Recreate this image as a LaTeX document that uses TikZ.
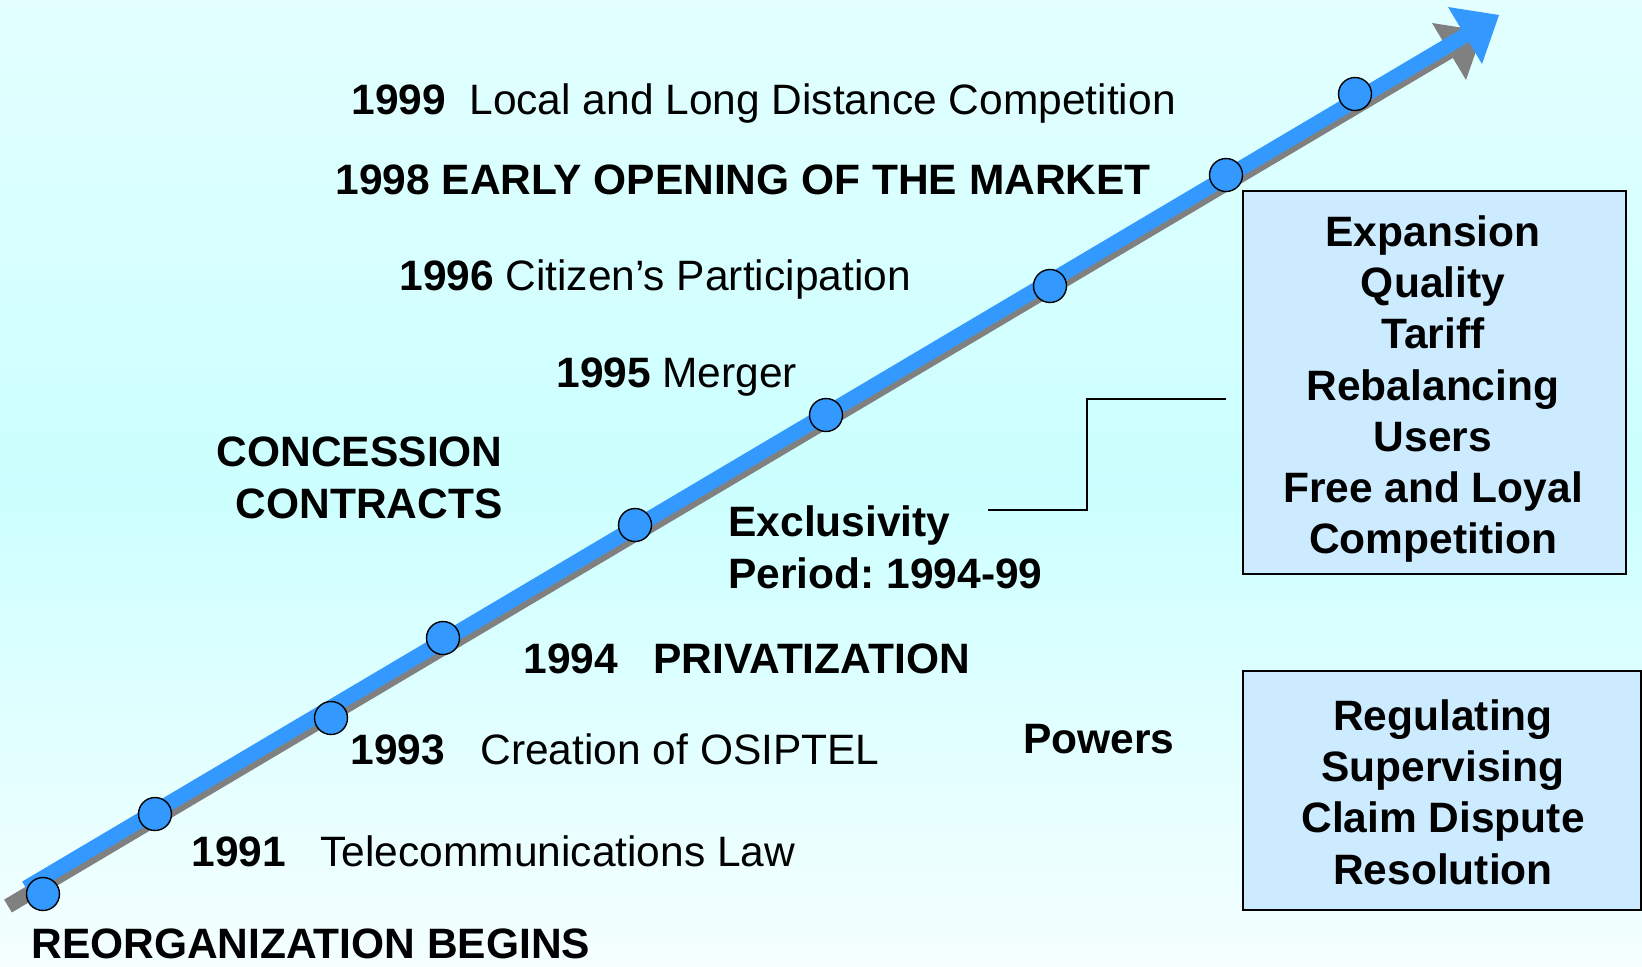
\documentclass[tikz,border=0pt]{standalone}
\usepackage{fontspec}
\setmainfont{Liberation Sans}
\frenchspacing
\definecolor{arrowblue}{HTML}{3399FF}
\definecolor{shadowgray}{HTML}{808080}
\definecolor{boxblue}{HTML}{CCEBFF}
\definecolor{bgtop}{HTML}{E3FFFF}
\definecolor{bgmid}{HTML}{CCFFFF}
\definecolor{bgbot}{HTML}{F5FFFF}
\begin{document}
\begin{tikzpicture}[x=0.5pt,y=-0.5pt,
  lbl/.style={font=\fontsize{21.25}{25.8}\selectfont, inner sep=0pt, anchor=base west},
  yr/.style={lbl, font=\fontsize{21.25}{25.8}\selectfont\bfseries},
  dot/.style={circle, draw=black, line width=0.7pt, fill=arrowblue, minimum size=16.5pt, inner sep=0pt},
  infobox/.style={draw=black, line width=0.75pt, fill=boxblue, inner sep=0pt, align=center, font=\fontsize{21.25}{25.6}\selectfont\bfseries},
  link/.style={draw=black, line width=0.9pt}
]
\shade[top color=bgtop, bottom color=bgbot, middle color=bgmid] (0,0) rectangle (1642,966);
\useasboundingbox (0,0) rectangle (1642,966);

% shadow arrow
\coordinate (gs) at (8,906);
\coordinate (ge) at (1449,51.5);
\draw[line width=7.5pt, shadowgray] (gs) -- (ge);
\fill[shadowgray] (1432,23) -- (1483,31) -- (1466,80) -- cycle;
% main arrow
\coordinate (bs) at (26,888);
\coordinate (be) at (1465,35.5);
\draw[line width=7.5pt, arrowblue] (bs) -- (be);
\fill[arrowblue] (1448,7) -- (1499,15) -- (1482,64) -- cycle;

% milestones
\node[dot] (d1) at (43,894) {};
\node[dot] (d2) at (155,814) {};
\node[dot] (d3) at (331,718) {};
\node[dot] (d4) at (443,638) {};
\node[dot] (d5) at (635,525) {};
\node[dot] (d6) at (826,415) {};
\node[dot] (d7) at (1050,286) {};
\node[dot] (d8) at (1226,175) {};
\node[dot] (d9) at (1355,94) {};

% labels
\node[yr] (y1999) at (351,114) {1999};
\node[lbl] (t1999) at (469,114) {Local and Long Distance Competition};
\node[yr] (t1998) at (335,194) {1998 EARLY OPENING OF THE MARKET};
\node[yr] (y1996) at (399,290) {1996};
\node[lbl] (t1996) at (505,290) {Citizen’s Participation};
\node[yr] (y1995) at (556,387) {1995};
\node[lbl] (t1995) at (662,387) {Merger};
\node[yr, anchor=base east] (conc1) at (503,466) {CONCESSION};
\node[yr, anchor=base east] (conc2) at (503,518) {CONTRACTS};
\node[yr] (excl) at (728,536) {Exclusivity};
\node[yr] (period) at (728,588) {Period: 1994-99};
\node[yr] (y1994) at (523,673) {1994};
\node[yr] (t1994) at (653,673) {PRIVATIZATION};
\node[yr] (y1993) at (350,764) {1993};
\node[lbl] (t1993) at (480,764) {Creation of OSIPTEL};
\node[yr] (powers) at (1023,753) {Powers};
\node[yr] (y1991) at (191,866) {1991};
\node[lbl] (t1991) at (320,866) {Telecommunications Law};
\node[yr] (reorg) at (31,958) {REORGANIZATION BEGINS};

% boxes
\node[infobox, minimum width=191.5pt, minimum height=191.5pt] (goals) at (1434.5,382.5) {};
\node[infobox, draw=none, fill=none, anchor=center] (goalstext) at (1433,389)
  {Expansion\\Quality\\Tariff\\Rebalancing\\Users\\Free and Loyal\\Competition};
\node[infobox, minimum width=199pt, minimum height=119.5pt] (powersbox) at (1442,790.5) {};
\node[infobox, draw=none, fill=none, anchor=center] (powerstext) at (1443,792)
  {Regulating\\Supervising\\Claim Dispute\\Resolution};

% connector
\coordinate (c1) at (988,510);
\coordinate (c2) at (1226,399);
\draw[link] (c1) -- ++(99,0) |- (c2);
\end{tikzpicture}
\end{document}
